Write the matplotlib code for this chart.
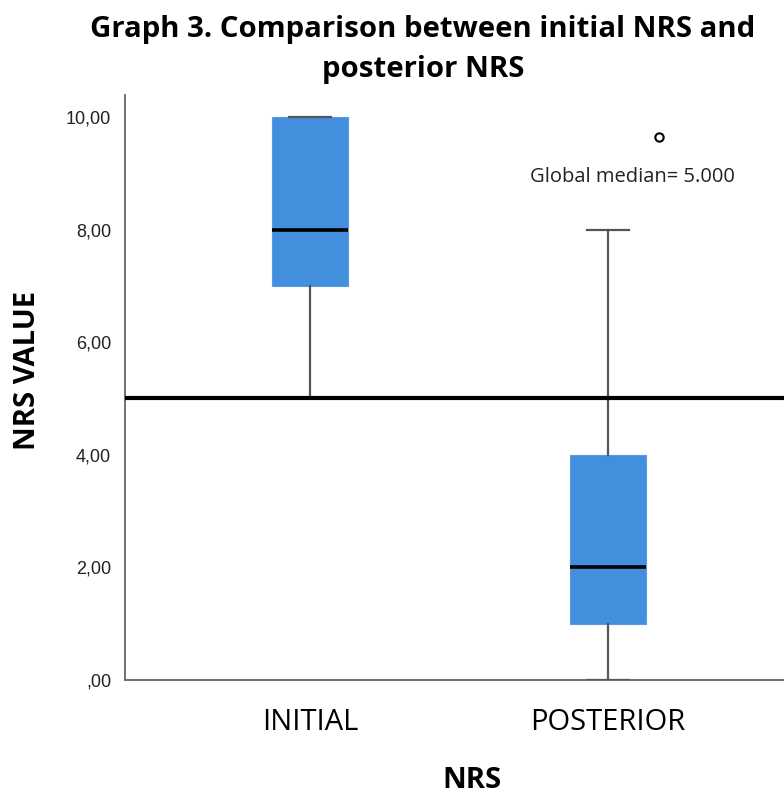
import matplotlib
matplotlib.use("Agg")
import matplotlib.pyplot as plt

categories = ["INITIAL", "POSTERIOR"]
q1 = [7.0, 1.0]
median = [8.0, 2.0]
q3 = [10.0, 4.0]
whisker_low = [5.0, 0.0]
whisker_high = [10.0, 8.0]
outlier_x = [2.17]
outlier_y = [9.64]
global_median = 5.0
yticks = [0, 2, 4, 6, 8, 10]
ytick_labels = [",00", "2,00", "4,00", "6,00", "8,00", "10,00"]

fig = plt.figure(figsize=(7.84, 7.96), dpi=100)
ax = fig.add_axes([125/784, 116/796, 1 - 125/784, (680-95)/796])

stats = []
for i, c in enumerate(categories):
    stats.append(dict(label=c, q1=q1[i], med=median[i], q3=q3[i],
                      whislo=whisker_low[i], whishi=whisker_high[i], fliers=[]))

ax.bxp(stats, positions=[1, 2], widths=0.255, patch_artist=True, showfliers=False,
       boxprops=dict(facecolor="#428fde", edgecolor="#5a9be0", linewidth=0.8),
       medianprops=dict(color="black", linewidth=2.6),
       whiskerprops=dict(color="#555555", linewidth=1.6),
       capprops=dict(color="#555555", linewidth=1.6, zorder=4),
       capwidths=0.14)

ax.plot(outlier_x, outlier_y, "o", markerfacecolor="white", markeredgecolor="black",
        markersize=6, markeredgewidth=1.5)

ax.axhline(global_median, color="black", linewidth=3, zorder=5)
ax.text(2.08, 8.93, "Global median= 5.000", ha="center", va="center",
        fontsize=14.5, family="Open Sans", color="#222222")

ax.set_xlim(0.379, 2.59)
ax.set_ylim(0, 10.39)
ax.set_yticks(yticks)
ax.set_yticklabels(ytick_labels, family="Liberation Sans", fontsize=13, color="#222222")
ax.set_xticks([1, 2])
ax.set_xticklabels(categories, family="Open Sans", fontsize=21, color="black")
ax.tick_params(axis="y", length=0, pad=10)
ax.tick_params(axis="x", length=0, pad=20)
for s in ["top", "right"]:
    ax.spines[s].set_visible(False)
for s in ["left", "bottom"]:
    ax.spines[s].set_color("#666666")
    ax.spines[s].set_linewidth(1.3)

fig.text(28/784, 1 - 370/796, "NRS VALUE", rotation=90, ha="center", va="center",
         fontsize=21, fontweight="bold", family="Open Sans", fontstretch="condensed")
fig.text(472/784, 1 - 780/796, "NRS", ha="center", va="center",
         fontsize=21, fontweight="bold", family="Open Sans")
fig.text(423/784, 1 - 49/796, "Graph 3. Comparison between initial NRS and\nposterior NRS",
         ha="center", va="center", fontsize=21.2, fontweight="bold", family="Open Sans",
         linespacing=1.5)

fig.savefig("out.png", dpi=100)
